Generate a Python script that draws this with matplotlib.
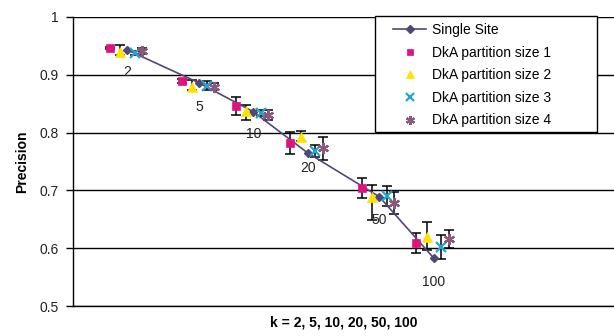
import matplotlib
matplotlib.use('Agg')
import matplotlib.pyplot as plt
from matplotlib.patches import Rectangle
from matplotlib.ticker import NullLocator
import numpy as np

plt.rcParams['font.family'] = ['Liberation Sans', 'DejaVu Sans']
plt.rcParams['font.size'] = 10

# data
k = [2, 5, 10, 20, 50, 100]
single_site = [0.943, 0.886, 0.836, 0.765, 0.689, 0.583]

dka1 = [0.946, 0.889, 0.846, 0.782, 0.704, 0.609]
dka1_err = [0.002, 0.003, 0.016, 0.019, 0.017, 0.018]

dka2 = [0.939, 0.879, 0.838, 0.792, 0.689, 0.619]
dka2_lo = [0.004, 0.006, 0.016, 0.006, 0.040, 0.022]
dka2_hi = [0.012, 0.012, 0.010, 0.010, 0.020, 0.026]

dka3 = [0.938, 0.881, 0.834, 0.768, 0.690, 0.602]
dka3_err = [0.003, 0.008, 0.005, 0.011, 0.017, 0.020]

dka4 = [0.941, 0.879, 0.830, 0.773, 0.678, 0.616]
dka4_err = [0.005, 0.006, 0.009, 0.020, 0.019, 0.016]

legend_labels = ['Single Site', 'DkA partition size 1', 'DkA partition size 2',
                 'DkA partition size 3', 'DkA partition size 4']

# horizontal offsets of each series around k (in decades, log axis)
OFFSETS = [-0.097, -0.039, 0.042, 0.083]
LABEL_DY = [-16, -17, -16, -11, -17, -17]

COL_SS = '#4f4778'
COL_1 = '#e0127f'
COL_2 = '#ffe200'
COL_3 = '#22a5d6'
COL_4 = '#8a5a78'

fig = plt.figure(figsize=(6.14, 3.36), dpi=100)
ax = fig.add_axes([73 / 614, 30 / 336, 541 / 614, 289 / 336])

kx = np.array(k, dtype=float)

series = [
    (dka1, [dka1_err, dka1_err], 's', COL_1, 6, OFFSETS[0]),
    (dka2, [dka2_lo, dka2_hi], '^', COL_2, 7, OFFSETS[1]),
    (dka3, [dka3_err, dka3_err], 'x', COL_3, 7, OFFSETS[2]),
    (dka4, [dka4_err, dka4_err], (6, 2, 0), COL_4, 8, OFFSETS[3]),
]

handles = []
h_ss, = ax.plot(kx, single_site, color=COL_SS, lw=1.2, marker='D',
                markersize=4.5, zorder=3)
handles.append(h_ss)

for vals, err, mk, col, ms, off in series:
    xs = kx * 10 ** off
    ax.errorbar(xs, vals, yerr=err, fmt='none', ecolor='black',
                elinewidth=1.1, capsize=3.5, capthick=1.1, zorder=2)
    mew = 1.6 if mk in ('x',) or isinstance(mk, tuple) else 0.5
    h, = ax.plot(xs, vals, linestyle='none', marker=mk, color=col,
                 markersize=ms, markeredgewidth=mew,
                 markeredgecolor=col, zorder=4)
    handles.append(h)

for xi, yi, dy in zip(kx, single_site, LABEL_DY):
    ax.annotate(str(int(xi)), (xi, yi), xytext=(0, dy),
                textcoords='offset points', ha='center', va='center',
                fontsize=10, color='#222222')

ax.set_xscale('log')
ax.set_xlim(1, 1000)
ax.set_ylim(0.5, 1.0)
ax.xaxis.set_major_locator(NullLocator())
ax.xaxis.set_minor_locator(NullLocator())
ax.set_yticks([0.5, 0.6, 0.7, 0.8, 0.9, 1.0])
ax.set_yticklabels(['0.5', '0.6', '0.7', '0.8', '0.9', '1'])
ax.tick_params(axis='y', direction='out', length=5, width=1, pad=5,
               colors='black', labelcolor='#222222')
ax.yaxis.grid(True, color='black', lw=1)
ax.set_axisbelow(True)
for s in ['top', 'right']:
    ax.spines[s].set_visible(False)
for s in ['left', 'bottom']:
    ax.spines[s].set_linewidth(1)

ax.set_ylabel('Precision', fontweight='bold', labelpad=8)
ax.set_xlabel('k = 2, 5, 10, 20, 50, 100', fontweight='bold', labelpad=7)

# legend box
x0 = (375 - 73) / 541
x1 = (597 - 73) / 541
y1 = (306 - 16) / 289
y0 = (306 - 132) / 289
ax.add_patch(Rectangle((x0, y0), x1 - x0, y1 - y0, transform=ax.transAxes,
                       facecolor='white', edgecolor='black', lw=1,
                       zorder=5, clip_on=False))
leg = ax.legend(handles, legend_labels, loc='upper left',
                bbox_to_anchor=((393 - 73) / 541, (306 - 23) / 289),
                frameon=False, borderpad=0, borderaxespad=0,
                handlelength=2.4, handletextpad=0.4, labelspacing=0.62,
                markerscale=0.8, fontsize=10)
leg.set_zorder(6)

fig.savefig('out.png', dpi=100)
